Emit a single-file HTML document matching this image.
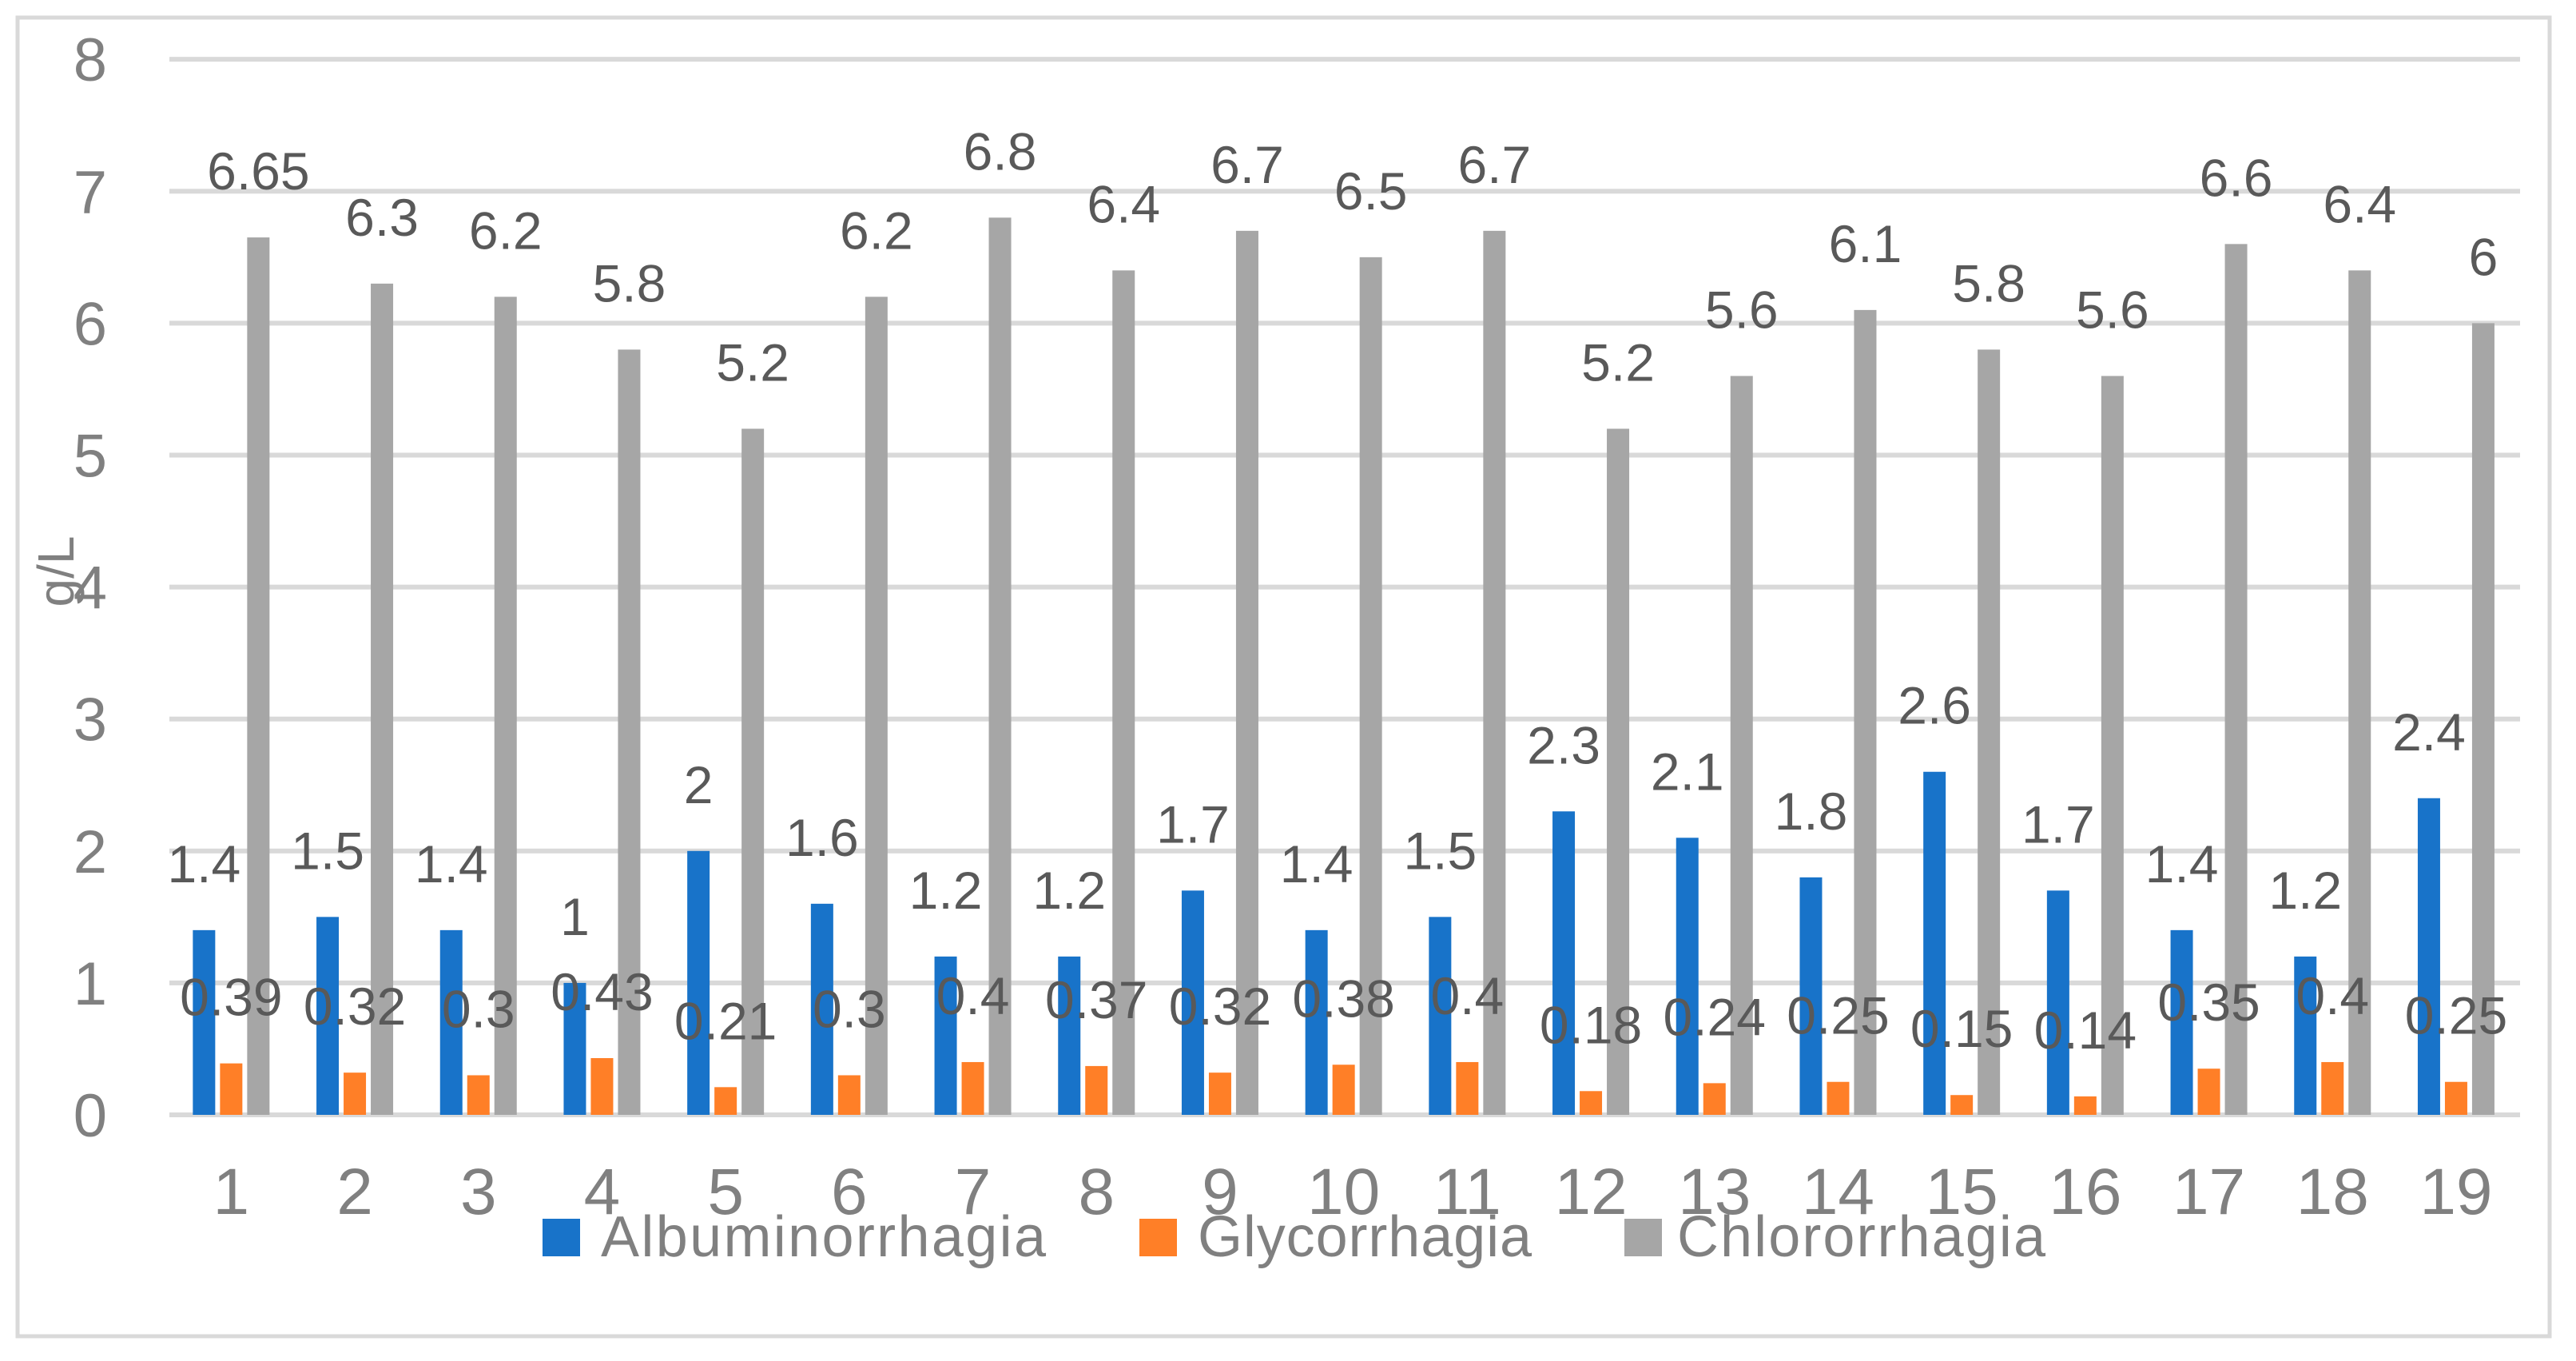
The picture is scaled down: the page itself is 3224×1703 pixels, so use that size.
<!DOCTYPE html>
<html><head><meta charset="utf-8"><style>
html,body{margin:0;padding:0;background:#fff}
svg{display:block;font-family:"Liberation Sans",Arial,sans-serif}
</style></head><body>
<svg id="chart" width="3224" height="1703" viewBox="0 0 3224 1703">
<rect x="22" y="22" width="3169" height="1650" fill="#fff" stroke="#d9d9d9" stroke-width="5"/>
<g id="grid"></g><g id="bars"></g><g id="labels"></g>
<text x="0" y="0" transform="translate(92,715) rotate(-90)" text-anchor="middle" font-size="64" fill="#808080">g/L</text>
<g>
<rect x="679" y="1525" width="47" height="47" fill="#1873c9"/>
<text x="752" y="1572" font-size="72" fill="#808080" textLength="557">Albuminorrhagia</text>
<rect x="1426" y="1525" width="47" height="47" fill="#ff7f27"/>
<text x="1499" y="1572" font-size="72" fill="#808080" textLength="418">Glycorrhagia</text>
<rect x="2033" y="1525" width="47" height="47" fill="#a6a6a6"/>
<text x="2099" y="1572" font-size="72" fill="#808080" textLength="461">Chlororrhagia</text>
</g>
</svg>
<script>
const categories = ["1","2","3","4","5","6","7","8","9","10","11","12","13","14","15","16","17","18","19"];
const albuminorrhagia = [1.4,1.5,1.4,1,2,1.6,1.2,1.2,1.7,1.4,1.5,2.3,2.1,1.8,2.6,1.7,1.4,1.2,2.4];
const glycorrhagia = [0.39,0.32,0.3,0.43,0.21,0.3,0.4,0.37,0.32,0.38,0.4,0.18,0.24,0.25,0.15,0.14,0.35,0.4,0.25];
const chlororrhagia = [6.65,6.3,6.2,5.8,5.2,6.2,6.8,6.4,6.7,6.5,6.7,5.2,5.6,6.1,5.8,5.6,6.6,6.4,6];
const yTicks = [0,1,2,3,4,5,6,7,8];
const NS="http://www.w3.org/2000/svg";
const y = v => 1395 - v*165.1;
const xc = i => 212 + (i+0.5)*154.7;
const grid=document.getElementById('grid'), bars=document.getElementById('bars'), labels=document.getElementById('labels');
function mk(tag, attrs, parent){const e=document.createElementNS(NS,tag);for(const k in attrs)e.setAttribute(k,attrs[k]);parent.appendChild(e);return e;}
yTicks.forEach(t=>{
  const l=mk('rect',{x:212,y:y(t)-3,width:2942,height:6,fill:'#d9d9d9'},grid);
  
  
  const tx=mk('text',{x:134,y:y(t)+27,'text-anchor':'end','font-size':76,fill:'#808080'},grid);
  tx.textContent=t;
  
  
});
const series=[[albuminorrhagia,'#1873c9',-34,'albuminorrhagia'],[glycorrhagia,'#ff7f27',0,'glycorrhagia'],[chlororrhagia,'#a6a6a6',34,'chlororrhagia']];
categories.forEach((c,i)=>{
  const t=mk('text',{x:xc(i),y:1519,'text-anchor':'middle','font-size':82,fill:'#808080'},labels);
  t.textContent=c;
  
  
  series.forEach(([arr,col,off,nm])=>{
    const v=arr[i];
    const b=mk('rect',{x:xc(i)+off-14,y:y(v),width:28,height:y(0)-y(v),fill:col},bars);
    
    
    const dl=mk('text',{x:xc(i)+off,y:y(v)-60,'text-anchor':'middle','font-size':66,fill:'#595959'},labels);
    dl.textContent=v;
    
    
  });
});
</script>
</body></html>
